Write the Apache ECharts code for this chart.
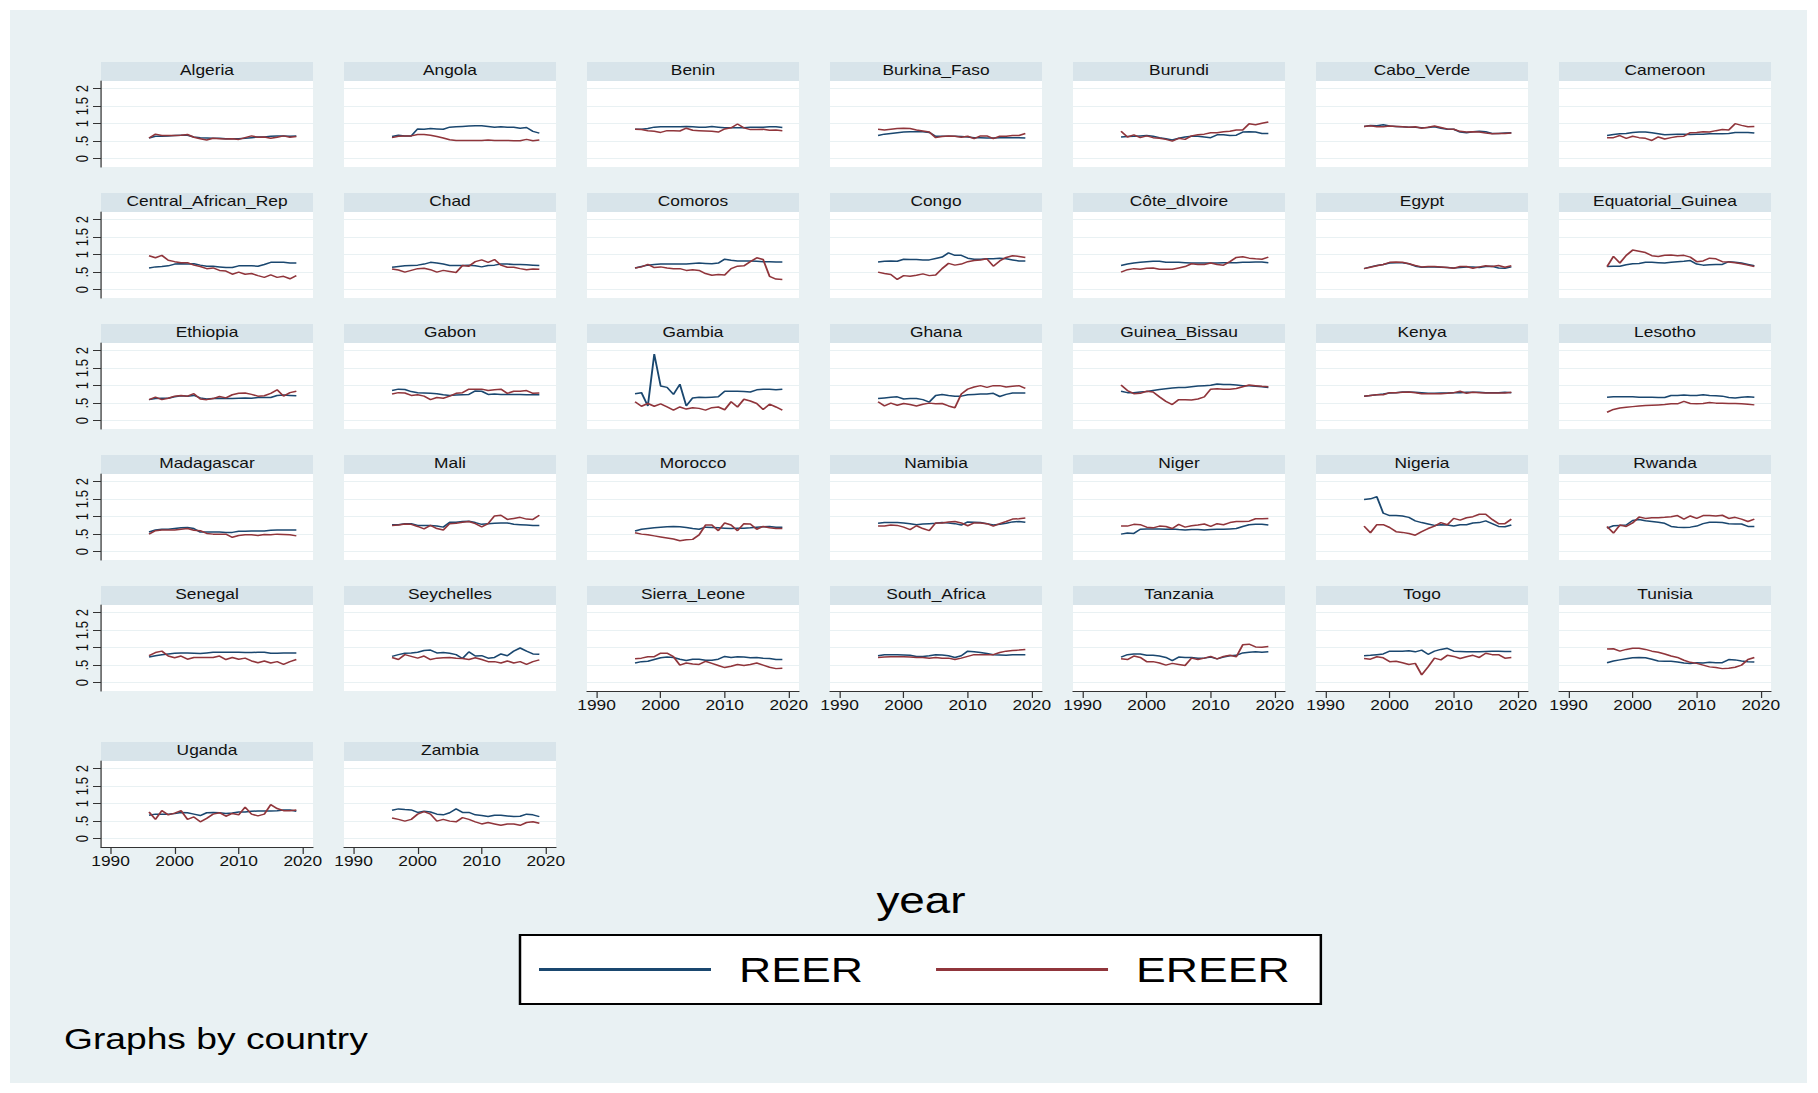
<!DOCTYPE html>
<html><head><meta charset="utf-8">
<script src="https://cdn.jsdelivr.net/npm/echarts@6/dist/echarts.min.js"></script>
<style>
html,body{margin:0;padding:0;background:#fff;overflow:hidden;}
#chart{position:absolute;left:0;top:0;width:1466px;height:1093px;transform:scaleX(1.240109);transform-origin:0 0;}
</style>
</head><body><div id="chart"></div>
<script>
// ---- data ----
const years = [1996,1997,1998,1999,2000,2001,2002,2003,2004,2005,2006,2007,2008,2009,2010,2011,2012,2013,2014,2015,2016,2017,2018,2019];
const yTicks = [0, 0.5, 1, 1.5, 2];
const yTickLabels = ['0', '.5', '1', '1.5', '2'];
const xTicks = [1990, 2000, 2010, 2020];
const xTickLabels = ['1990', '2000', '2010', '2020'];
const seriesNames = ['REER', 'EREER'];

const algeriaREER = [0.59,0.64,0.64,0.65,0.66,0.67,0.67,0.62,0.6,0.59,0.58,0.58,0.57,0.57,0.57,0.58,0.6,0.62,0.62,0.64,0.65,0.65,0.64,0.65];
const algeriaEREER = [0.59,0.7,0.66,0.66,0.66,0.67,0.69,0.61,0.57,0.53,0.58,0.57,0.56,0.57,0.55,0.6,0.65,0.61,0.62,0.58,0.61,0.65,0.61,0.63];
const angolaREER = [0.63,0.67,0.65,0.65,0.85,0.84,0.86,0.85,0.84,0.9,0.91,0.92,0.93,0.94,0.94,0.92,0.9,0.91,0.9,0.9,0.87,0.89,0.78,0.73];
const angolaEREER = [0.6,0.64,0.65,0.65,0.69,0.69,0.67,0.63,0.59,0.54,0.52,0.52,0.52,0.52,0.52,0.53,0.52,0.52,0.52,0.51,0.51,0.55,0.51,0.53];
const beninREER = [0.84,0.84,0.86,0.9,0.91,0.91,0.91,0.91,0.92,0.91,0.9,0.9,0.92,0.9,0.88,0.88,0.88,0.88,0.9,0.9,0.9,0.91,0.91,0.89];
const beninEREER = [0.84,0.83,0.8,0.78,0.75,0.8,0.8,0.79,0.87,0.81,0.8,0.79,0.78,0.76,0.85,0.88,0.99,0.88,0.83,0.83,0.84,0.81,0.82,0.8];
const burkinaREER = [0.66,0.7,0.72,0.74,0.76,0.77,0.77,0.77,0.75,0.64,0.64,0.64,0.64,0.63,0.62,0.6,0.6,0.59,0.59,0.6,0.6,0.6,0.6,0.59];
const burkinaEREER = [0.84,0.82,0.84,0.86,0.87,0.86,0.82,0.79,0.76,0.6,0.63,0.65,0.64,0.61,0.64,0.57,0.65,0.65,0.57,0.64,0.64,0.66,0.66,0.72];
const burundiREER = [0.62,0.63,0.64,0.65,0.66,0.64,0.6,0.57,0.53,0.58,0.62,0.64,0.64,0.62,0.6,0.68,0.68,0.66,0.67,0.76,0.77,0.76,0.72,0.72];
const burundiEREER = [0.78,0.62,0.68,0.6,0.65,0.6,0.58,0.55,0.5,0.58,0.55,0.65,0.68,0.7,0.74,0.74,0.77,0.78,0.82,0.82,1.0,0.97,1.01,1.05];
const caboREER = [0.92,0.95,0.94,0.97,0.93,0.92,0.91,0.9,0.9,0.88,0.89,0.91,0.87,0.84,0.84,0.76,0.74,0.77,0.78,0.77,0.72,0.72,0.73,0.74];
const caboEREER = [0.92,0.94,0.91,0.91,0.93,0.92,0.91,0.9,0.91,0.87,0.9,0.93,0.89,0.85,0.84,0.78,0.76,0.77,0.76,0.73,0.71,0.72,0.72,0.73];
const cameroonREER = [0.66,0.69,0.71,0.72,0.75,0.76,0.76,0.74,0.71,0.68,0.69,0.7,0.7,0.69,0.7,0.7,0.71,0.71,0.71,0.72,0.75,0.75,0.75,0.73];
const cameroonEREER = [0.6,0.6,0.66,0.58,0.64,0.6,0.58,0.52,0.62,0.56,0.6,0.63,0.64,0.74,0.75,0.77,0.76,0.8,0.83,0.82,1.0,0.95,0.91,0.92];
const carREER = [0.62,0.65,0.66,0.68,0.73,0.74,0.73,0.74,0.7,0.67,0.67,0.65,0.63,0.63,0.68,0.68,0.68,0.67,0.72,0.78,0.78,0.78,0.76,0.76];
const carEREER = [0.97,0.91,0.98,0.84,0.8,0.77,0.77,0.7,0.66,0.6,0.62,0.55,0.53,0.44,0.5,0.44,0.46,0.4,0.35,0.42,0.35,0.38,0.31,0.4];
const chadREER = [0.64,0.66,0.68,0.69,0.7,0.73,0.78,0.76,0.73,0.69,0.69,0.69,0.7,0.68,0.65,0.69,0.7,0.73,0.73,0.72,0.72,0.71,0.7,0.69];
const chadEREER = [0.59,0.56,0.5,0.55,0.6,0.61,0.57,0.5,0.55,0.52,0.49,0.69,0.67,0.8,0.85,0.78,0.86,0.7,0.64,0.64,0.6,0.57,0.59,0.58];
const comorosREER = [0.62,0.66,0.7,0.72,0.73,0.73,0.73,0.73,0.73,0.75,0.76,0.75,0.74,0.76,0.87,0.84,0.82,0.82,0.82,0.81,0.8,0.8,0.79,0.79];
const comorosEREER = [0.62,0.65,0.72,0.63,0.65,0.62,0.6,0.6,0.55,0.57,0.55,0.46,0.41,0.43,0.42,0.6,0.67,0.68,0.8,0.91,0.86,0.38,0.3,0.29];
const congoREER = [0.79,0.81,0.82,0.81,0.87,0.86,0.86,0.85,0.85,0.89,0.93,1.05,0.98,0.98,0.9,0.87,0.87,0.88,0.88,0.9,0.88,0.85,0.82,0.82];
const congoEREER = [0.5,0.46,0.43,0.29,0.4,0.38,0.41,0.45,0.4,0.42,0.6,0.75,0.7,0.73,0.8,0.83,0.85,0.88,0.67,0.82,0.92,0.97,0.95,0.92];
const coteREER = [0.69,0.73,0.76,0.78,0.8,0.81,0.81,0.78,0.78,0.78,0.77,0.76,0.76,0.76,0.76,0.76,0.77,0.77,0.77,0.78,0.78,0.79,0.79,0.77];
const coteEREER = [0.5,0.57,0.6,0.58,0.61,0.62,0.58,0.58,0.58,0.62,0.66,0.74,0.72,0.72,0.76,0.72,0.7,0.8,0.92,0.94,0.9,0.88,0.87,0.93];
const egyptREER = [0.6,0.65,0.69,0.72,0.76,0.77,0.77,0.74,0.67,0.64,0.65,0.65,0.64,0.63,0.62,0.63,0.65,0.65,0.63,0.66,0.67,0.62,0.61,0.65];
const egyptEREER = [0.6,0.64,0.68,0.72,0.78,0.79,0.78,0.74,0.69,0.65,0.66,0.66,0.65,0.63,0.61,0.66,0.66,0.61,0.65,0.68,0.66,0.69,0.64,0.68];
const eqGuineaREER = [0.66,0.67,0.67,0.71,0.74,0.75,0.78,0.78,0.77,0.76,0.78,0.8,0.81,0.83,0.73,0.7,0.71,0.72,0.72,0.8,0.78,0.76,0.72,0.68];
const eqGuineaEREER = [0.66,0.95,0.76,0.98,1.13,1.1,1.06,0.97,0.95,0.98,0.99,0.97,0.98,0.93,0.8,0.82,0.9,0.88,0.8,0.79,0.77,0.74,0.7,0.66];
const ethiopiaREER = [0.6,0.63,0.64,0.64,0.68,0.71,0.7,0.72,0.65,0.62,0.63,0.64,0.63,0.63,0.64,0.65,0.64,0.66,0.66,0.66,0.72,0.73,0.72,0.71];
const ethiopiaEREER = [0.6,0.67,0.6,0.64,0.7,0.72,0.7,0.77,0.62,0.6,0.63,0.69,0.65,0.74,0.78,0.79,0.75,0.7,0.71,0.78,0.88,0.7,0.8,0.84];
const gabonREER = [0.86,0.9,0.89,0.83,0.8,0.79,0.78,0.77,0.74,0.72,0.73,0.74,0.75,0.85,0.84,0.75,0.76,0.75,0.75,0.75,0.75,0.74,0.74,0.74];
const gabonEREER = [0.76,0.8,0.79,0.72,0.74,0.7,0.6,0.66,0.64,0.7,0.78,0.8,0.9,0.9,0.9,0.86,0.88,0.9,0.78,0.84,0.84,0.86,0.78,0.79];
const gambiaREER = [0.77,0.8,0.42,1.9,0.99,0.95,0.75,1.04,0.42,0.65,0.67,0.66,0.67,0.68,0.84,0.84,0.84,0.83,0.82,0.88,0.9,0.9,0.88,0.9];
const gambiaEREER = [0.54,0.41,0.49,0.41,0.48,0.39,0.3,0.39,0.33,0.37,0.35,0.3,0.37,0.39,0.31,0.54,0.39,0.61,0.56,0.49,0.32,0.47,0.39,0.3];
const ghanaREER = [0.63,0.65,0.67,0.68,0.62,0.63,0.63,0.6,0.53,0.72,0.75,0.72,0.7,0.7,0.74,0.75,0.76,0.76,0.78,0.69,0.75,0.79,0.79,0.79];
const ghanaEREER = [0.54,0.42,0.5,0.44,0.49,0.46,0.42,0.47,0.5,0.48,0.49,0.42,0.37,0.76,0.9,0.96,1.0,0.95,1.0,1.0,0.96,0.98,1.0,0.92];
const guineaBissauREER = [0.84,0.8,0.8,0.82,0.83,0.86,0.89,0.91,0.93,0.95,0.95,0.97,0.99,1.0,1.01,1.05,1.03,1.03,1.02,1.0,1.0,0.98,0.97,0.95];
const guineaBissauEREER = [1.02,0.86,0.77,0.78,0.84,0.82,0.68,0.55,0.46,0.6,0.6,0.59,0.62,0.68,0.9,0.91,0.9,0.9,0.92,0.97,1.02,1.0,0.98,0.97];
const kenyaREER = [0.7,0.72,0.74,0.76,0.79,0.8,0.82,0.82,0.81,0.8,0.78,0.78,0.79,0.79,0.8,0.8,0.81,0.81,0.81,0.8,0.8,0.8,0.81,0.8];
const kenyaEREER = [0.7,0.72,0.74,0.74,0.8,0.8,0.81,0.82,0.8,0.77,0.77,0.77,0.77,0.78,0.8,0.84,0.78,0.81,0.8,0.79,0.79,0.79,0.79,0.81];
const lesothoREER = [0.67,0.68,0.68,0.68,0.68,0.67,0.67,0.67,0.66,0.66,0.72,0.72,0.73,0.72,0.72,0.74,0.72,0.71,0.7,0.66,0.65,0.67,0.68,0.67];
const lesothoEREER = [0.24,0.32,0.36,0.38,0.4,0.42,0.43,0.44,0.45,0.46,0.48,0.48,0.55,0.49,0.48,0.49,0.52,0.5,0.5,0.49,0.49,0.48,0.47,0.45];
const madagascarREER = [0.56,0.62,0.64,0.64,0.66,0.68,0.69,0.66,0.56,0.56,0.56,0.56,0.55,0.55,0.58,0.58,0.59,0.59,0.59,0.61,0.62,0.62,0.62,0.62];
const madagascarEREER = [0.5,0.6,0.62,0.62,0.62,0.64,0.66,0.61,0.6,0.52,0.5,0.5,0.5,0.41,0.46,0.48,0.48,0.46,0.49,0.48,0.5,0.49,0.48,0.45];
const maliREER = [0.77,0.77,0.8,0.8,0.75,0.75,0.75,0.73,0.7,0.84,0.84,0.86,0.87,0.83,0.78,0.8,0.81,0.82,0.82,0.78,0.77,0.76,0.75,0.75];
const maliEREER = [0.75,0.76,0.79,0.78,0.72,0.65,0.75,0.66,0.62,0.8,0.81,0.84,0.86,0.8,0.71,0.8,1.02,1.04,0.92,0.95,0.98,0.93,0.92,1.04];
const moroccoREER = [0.59,0.64,0.66,0.68,0.7,0.71,0.72,0.71,0.69,0.66,0.64,0.7,0.69,0.68,0.67,0.66,0.67,0.67,0.68,0.7,0.71,0.72,0.7,0.7];
const moroccoEREER = [0.54,0.5,0.48,0.45,0.42,0.39,0.36,0.31,0.34,0.35,0.48,0.76,0.76,0.6,0.82,0.76,0.6,0.8,0.79,0.64,0.72,0.68,0.66,0.66];
const namibiaREER = [0.81,0.83,0.83,0.83,0.82,0.8,0.77,0.79,0.8,0.81,0.83,0.82,0.8,0.76,0.85,0.84,0.83,0.8,0.76,0.78,0.81,0.85,0.86,0.84];
const namibiaEREER = [0.73,0.73,0.76,0.75,0.7,0.63,0.74,0.66,0.6,0.82,0.82,0.85,0.86,0.82,0.74,0.82,0.82,0.8,0.73,0.8,0.86,0.93,0.94,0.96];
const nigerREER = [0.5,0.53,0.52,0.64,0.65,0.65,0.65,0.64,0.65,0.63,0.62,0.63,0.63,0.62,0.63,0.64,0.64,0.65,0.66,0.72,0.77,0.78,0.78,0.76];
const nigerEREER = [0.73,0.73,0.78,0.77,0.7,0.68,0.73,0.72,0.66,0.78,0.7,0.74,0.76,0.79,0.72,0.8,0.77,0.83,0.86,0.86,0.87,0.94,0.94,0.95];
const nigeriaREER = [1.49,1.51,1.57,1.1,1.03,1.03,1.02,0.98,0.88,0.83,0.79,0.75,0.77,0.76,0.73,0.77,0.77,0.82,0.83,0.88,0.8,0.72,0.71,0.76];
const nigeriaEREER = [0.73,0.54,0.77,0.77,0.69,0.57,0.55,0.52,0.47,0.57,0.66,0.73,0.83,0.77,0.95,0.9,0.97,1.0,1.07,1.07,0.92,0.8,0.8,0.93];
const rwandaREER = [0.67,0.74,0.75,0.76,0.89,0.92,0.88,0.86,0.84,0.81,0.72,0.7,0.69,0.7,0.73,0.8,0.84,0.84,0.83,0.8,0.79,0.79,0.72,0.72];
const rwandaEREER = [0.72,0.53,0.76,0.72,0.82,0.99,0.95,0.97,0.97,0.98,1.0,1.03,0.93,1.02,0.95,1.03,1.03,1.02,1.04,0.95,0.98,0.93,0.86,0.93];
const senegalREER = [0.73,0.77,0.8,0.82,0.84,0.85,0.85,0.84,0.83,0.85,0.87,0.87,0.87,0.87,0.87,0.86,0.86,0.87,0.87,0.84,0.84,0.85,0.85,0.85];
const senegalEREER = [0.77,0.86,0.9,0.76,0.71,0.76,0.67,0.72,0.72,0.72,0.72,0.76,0.66,0.72,0.67,0.7,0.62,0.57,0.62,0.56,0.6,0.52,0.6,0.66];
const seychellesREER = [0.75,0.8,0.84,0.85,0.87,0.92,0.93,0.85,0.86,0.84,0.8,0.69,0.88,0.76,0.77,0.7,0.72,0.82,0.77,0.9,0.99,0.9,0.82,0.81];
const seychellesEREER = [0.72,0.66,0.8,0.75,0.7,0.76,0.66,0.7,0.71,0.72,0.7,0.69,0.66,0.71,0.66,0.6,0.6,0.56,0.62,0.56,0.6,0.52,0.6,0.65];
const sierraLeoneREER = [0.56,0.6,0.61,0.66,0.71,0.73,0.72,0.67,0.63,0.67,0.67,0.64,0.64,0.67,0.75,0.72,0.74,0.73,0.71,0.72,0.7,0.69,0.66,0.66];
const sierraLeoneEREER = [0.68,0.7,0.74,0.74,0.84,0.84,0.74,0.5,0.56,0.53,0.52,0.61,0.55,0.49,0.43,0.47,0.52,0.49,0.52,0.56,0.5,0.44,0.4,0.41];
const southAfricaREER = [0.77,0.8,0.8,0.8,0.79,0.78,0.75,0.75,0.77,0.8,0.79,0.77,0.72,0.77,0.9,0.88,0.86,0.83,0.8,0.79,0.78,0.8,0.8,0.8];
const southAfricaEREER = [0.72,0.73,0.74,0.74,0.74,0.73,0.72,0.72,0.7,0.72,0.7,0.7,0.66,0.7,0.75,0.8,0.8,0.8,0.8,0.86,0.9,0.92,0.93,0.95];
const tanzaniaREER = [0.73,0.8,0.82,0.82,0.78,0.78,0.76,0.72,0.63,0.73,0.72,0.72,0.7,0.7,0.73,0.68,0.73,0.77,0.78,0.85,0.87,0.88,0.87,0.88];
const tanzaniaEREER = [0.68,0.66,0.76,0.72,0.6,0.6,0.56,0.5,0.55,0.52,0.49,0.7,0.66,0.7,0.75,0.68,0.75,0.78,0.74,1.08,1.1,1.02,1.01,1.03];
const togoREER = [0.77,0.78,0.8,0.82,0.9,0.9,0.9,0.91,0.88,0.93,0.81,0.9,0.95,0.98,0.9,0.89,0.88,0.88,0.88,0.89,0.9,0.9,0.89,0.89];
const togoEREER = [0.69,0.67,0.74,0.71,0.6,0.61,0.57,0.52,0.55,0.22,0.45,0.7,0.65,0.78,0.75,0.69,0.74,0.78,0.72,0.84,0.8,0.8,0.7,0.72];
const tunisiaREER = [0.57,0.62,0.65,0.68,0.71,0.72,0.71,0.67,0.62,0.61,0.61,0.59,0.56,0.55,0.57,0.56,0.58,0.57,0.57,0.66,0.65,0.62,0.6,0.59];
const tunisiaEREER = [0.96,0.97,0.9,0.95,0.98,0.98,0.95,0.9,0.87,0.82,0.76,0.72,0.64,0.58,0.55,0.5,0.45,0.43,0.4,0.41,0.44,0.5,0.66,0.72];
const ugandaREER = [0.67,0.7,0.7,0.7,0.72,0.75,0.74,0.7,0.66,0.74,0.75,0.74,0.72,0.73,0.76,0.76,0.78,0.79,0.79,0.79,0.8,0.82,0.82,0.78];
const ugandaEREER = [0.76,0.55,0.8,0.68,0.73,0.8,0.55,0.62,0.48,0.58,0.7,0.74,0.64,0.72,0.68,0.9,0.7,0.65,0.7,0.97,0.86,0.8,0.8,0.82];
const zambiaREER = [0.81,0.85,0.83,0.82,0.75,0.78,0.76,0.7,0.68,0.74,0.85,0.75,0.75,0.68,0.66,0.63,0.67,0.67,0.65,0.63,0.64,0.7,0.68,0.63];
const zambiaEREER = [0.59,0.55,0.5,0.55,0.7,0.77,0.7,0.5,0.55,0.5,0.48,0.6,0.55,0.48,0.42,0.46,0.42,0.38,0.42,0.42,0.38,0.46,0.48,0.44];

const countries = ['Algeria','Angola','Benin','Burkina_Faso','Burundi','Cabo_Verde','Cameroon',
  'Central_African_Rep','Chad','Comoros','Congo','Côte_dIvoire','Egypt','Equatorial_Guinea',
  'Ethiopia','Gabon','Gambia','Ghana','Guinea_Bissau','Kenya','Lesotho',
  'Madagascar','Mali','Morocco','Namibia','Niger','Nigeria','Rwanda',
  'Senegal','Seychelles','Sierra_Leone','South_Africa','Tanzania','Togo','Tunisia',
  'Uganda','Zambia'];
const reerList = [algeriaREER,angolaREER,beninREER,burkinaREER,burundiREER,caboREER,cameroonREER,
  carREER,chadREER,comorosREER,congoREER,coteREER,egyptREER,eqGuineaREER,
  ethiopiaREER,gabonREER,gambiaREER,ghanaREER,guineaBissauREER,kenyaREER,lesothoREER,
  madagascarREER,maliREER,moroccoREER,namibiaREER,nigerREER,nigeriaREER,rwandaREER,
  senegalREER,seychellesREER,sierraLeoneREER,southAfricaREER,tanzaniaREER,togoREER,tunisiaREER,
  ugandaREER,zambiaREER];
const ereerList = [algeriaEREER,angolaEREER,beninEREER,burkinaEREER,burundiEREER,caboEREER,cameroonEREER,
  carEREER,chadEREER,comorosEREER,congoEREER,coteEREER,egyptEREER,eqGuineaEREER,
  ethiopiaEREER,gabonEREER,gambiaEREER,ghanaEREER,guineaBissauEREER,kenyaEREER,lesothoEREER,
  madagascarEREER,maliEREER,moroccoEREER,namibiaEREER,nigerEREER,nigeriaEREER,rwandaEREER,
  senegalEREER,seychellesEREER,sierraLeoneEREER,southAfricaEREER,tanzaniaEREER,togoEREER,tunisiaEREER,
  ugandaEREER,zambiaEREER];

// ---- layout / style ----
const SX = 1466 / 1818;
const X = v => v * SX;
const FONT = '"Liberation Sans", Arial, Helvetica, sans-serif';
const BG = '#e9f1f3', HEAD = '#d8e4ea', GRIDC = '#e9f1f3', AXC = '#333333';
const BLUE = '#1a476f', RED = '#90353b';

const grids = [], xAxes = [], yAxes = [], series = [];
const graphics = [
  {type:'rect', z:-100, silent:true, shape:{x:X(10), y:10, width:X(1797), height:1073}, style:{fill:BG}}
];

countries.forEach((name, i) => {
  const r = Math.floor(i / 7), c = i % 7;
  const left = 101 + 243 * c;
  const hTop = r < 5 ? 62 + 131 * r : 742;
  const bottomAxis = (r === 4 && c >= 2) || r === 5;
  const leftAxis = c === 0;
  grids.push({left:X(left), top:hTop + 19, width:X(212), height:86, show:true,
    backgroundColor:'#ffffff', borderWidth:0});
  graphics.push({type:'rect', silent:true, shape:{x:X(left), y:hTop, width:X(212), height:19}, style:{fill:HEAD}});
  graphics.push({type:'text', silent:true, x:X(left + 106), y:hTop + 8.5,
    style:{text:name, fontFamily:FONT, fontSize:14, fill:'#111', align:'center', verticalAlign:'middle'}});
  xAxes.push({type:'value', gridIndex:i, min:1988.5, max:2021.6, position:'bottom',
    axisLine:{show:bottomAxis, onZero:false, lineStyle:{color:AXC, width:1}},
    axisTick:{show:bottomAxis, customValues:xTicks, length:7, lineStyle:{color:AXC, width:1}},
    axisLabel:{show:bottomAxis, customValues:xTicks, fontSize:14, margin:7, color:'#111', fontFamily:FONT,
      formatter: v => { const k = xTicks.indexOf(v); return k >= 0 ? xTickLabels[k] : ''; }},
    splitLine:{show:false}});
  yAxes.push({type:'value', gridIndex:i, min:-0.24, max:2.22, position:'left',
    axisLine:{show:leftAxis, onZero:false, lineStyle:{color:AXC, width:1}},
    axisTick:{show:leftAxis, customValues:yTicks, length:X(8), lineStyle:{color:AXC, width:1}},
    axisLabel:{show:leftAxis, customValues:yTicks, rotate:90, fontSize:13, margin:X(10), color:'#111', fontFamily:FONT,
      formatter: v => { const k = yTicks.indexOf(v); return k >= 0 ? yTickLabels[k] : ''; }},
    splitLine:{show:true, lineStyle:{color:GRIDC, width:1.2}}});
  series.push({type:'line', name:seriesNames[0], xAxisIndex:i, yAxisIndex:i, color:BLUE,
    data: years.map((y, k) => [y, reerList[i][k]]), showSymbol:false, symbol:'none', silent:true,
    lineStyle:{width:1.5, color:BLUE}, itemStyle:{color:BLUE}, z:2});
  series.push({type:'line', name:seriesNames[1], xAxisIndex:i, yAxisIndex:i, color:RED,
    data: years.map((y, k) => [y, ereerList[i][k]]), showSymbol:false, symbol:'none', silent:true,
    lineStyle:{width:1.5, color:RED}, itemStyle:{color:RED}, z:3});
});

graphics.push({type:'text', silent:true, x:X(921), y:900,
  style:{text:'year', fontFamily:FONT, fontSize:37, fill:'#000', align:'center', verticalAlign:'middle'}});
graphics.push({type:'text', silent:true, x:X(64), y:1038,
  style:{text:'Graphs by country', fontFamily:FONT, fontSize:30, fill:'#000', align:'left', verticalAlign:'middle'}});

const chart = echarts.init(document.getElementById('chart'), null, {renderer:'svg'});
chart.setOption({
  backgroundColor:'#ffffff',
  animation:false,
  grid: grids,
  xAxis: xAxes,
  yAxis: yAxes,
  series: series,
  graphic: graphics,
  legend: {
    data: seriesNames, left:X(520), top:935, orient:'horizontal', icon:'rect',
    itemWidth:X(172), itemHeight:3, itemGap:X(73), selectedMode:false,
    padding:[16, X(31), 16, X(19)], backgroundColor:'#ffffff', borderColor:'#000', borderWidth:2, borderRadius:0,
    textStyle:{fontSize:36, color:'#000', fontFamily:FONT, lineHeight:37, padding:[0,0,0,X(28) - 5]}
  }
});
</script>
</body></html>
